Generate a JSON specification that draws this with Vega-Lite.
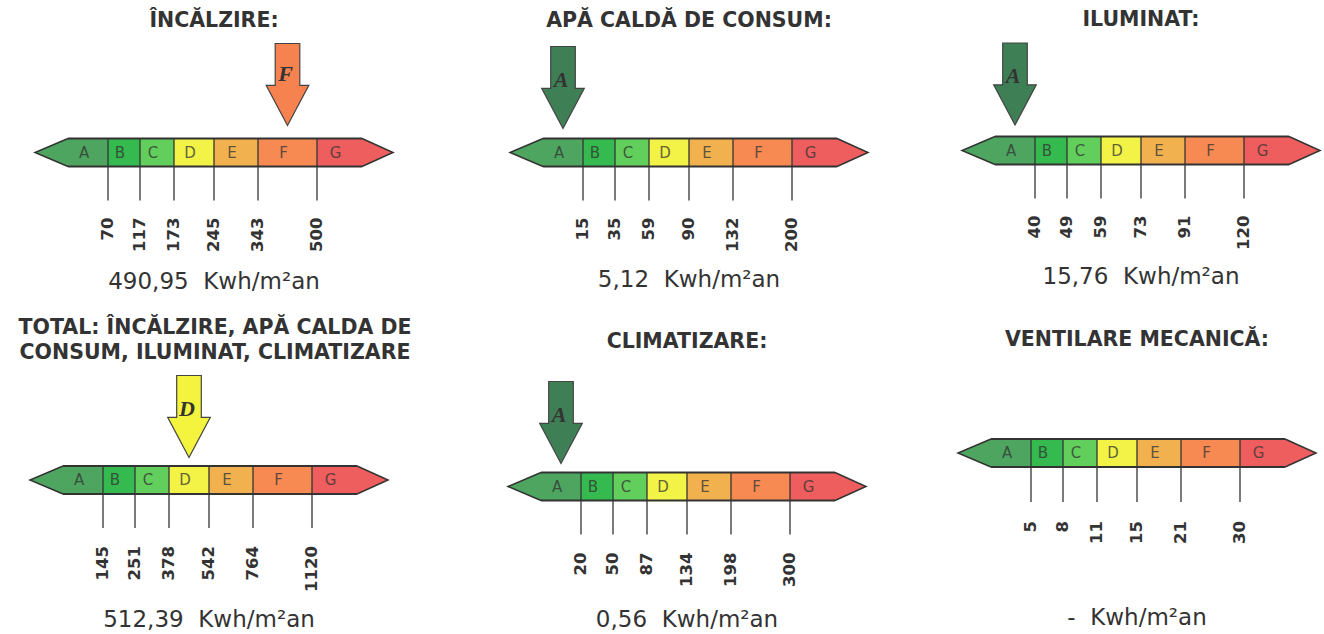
{
"$schema": "https://vega.github.io/schema/vega-lite/v6.json",
"padding": 0,
"background": "white",
"spacing": 0,
"config": {"view": {"stroke": null}, "axis": {"disable": true}, "legend": {"disable": true}},
"datasets": {
"grades": [
{"grade": "A", "lo": 33, "hi": 73, "mid": 53},
{"grade": "B", "lo": 73, "hi": 105, "mid": 89},
{"grade": "C", "lo": 105, "hi": 139, "mid": 122},
{"grade": "D", "lo": 139, "hi": 179, "mid": 159},
{"grade": "E", "lo": 179, "hi": 223, "mid": 201},
{"grade": "F", "lo": 223, "hi": 282, "mid": 252.5},
{"grade": "G", "lo": 282, "hi": 327, "mid": 304.5}
],
"limits": [
{"panel": "inc", "grade": "A", "limit": "70"}, {"panel": "inc", "grade": "B", "limit": "117"}, {"panel": "inc", "grade": "C", "limit": "173"}, {"panel": "inc", "grade": "D", "limit": "245"}, {"panel": "inc", "grade": "E", "limit": "343"}, {"panel": "inc", "grade": "F", "limit": "500"},
{"panel": "apa", "grade": "A", "limit": "15"}, {"panel": "apa", "grade": "B", "limit": "35"}, {"panel": "apa", "grade": "C", "limit": "59"}, {"panel": "apa", "grade": "D", "limit": "90"}, {"panel": "apa", "grade": "E", "limit": "132"}, {"panel": "apa", "grade": "F", "limit": "200"},
{"panel": "ilu", "grade": "A", "limit": "40"}, {"panel": "ilu", "grade": "B", "limit": "49"}, {"panel": "ilu", "grade": "C", "limit": "59"}, {"panel": "ilu", "grade": "D", "limit": "73"}, {"panel": "ilu", "grade": "E", "limit": "91"}, {"panel": "ilu", "grade": "F", "limit": "120"},
{"panel": "tot", "grade": "A", "limit": "145"}, {"panel": "tot", "grade": "B", "limit": "251"}, {"panel": "tot", "grade": "C", "limit": "378"}, {"panel": "tot", "grade": "D", "limit": "542"}, {"panel": "tot", "grade": "E", "limit": "764"}, {"panel": "tot", "grade": "F", "limit": "1120"},
{"panel": "cli", "grade": "A", "limit": "20"}, {"panel": "cli", "grade": "B", "limit": "50"}, {"panel": "cli", "grade": "C", "limit": "87"}, {"panel": "cli", "grade": "D", "limit": "134"}, {"panel": "cli", "grade": "E", "limit": "198"}, {"panel": "cli", "grade": "F", "limit": "300"},
{"panel": "ven", "grade": "A", "limit": "5"}, {"panel": "ven", "grade": "B", "limit": "8"}, {"panel": "ven", "grade": "C", "limit": "11"}, {"panel": "ven", "grade": "D", "limit": "15"}, {"panel": "ven", "grade": "E", "limit": "21"}, {"panel": "ven", "grade": "F", "limit": "30"}
],
"panels": [
{"panel": "inc", "title": ["ÎNCĂLZIRE:"], "value": "490,95\u00a0 Kwh/m²an", "grade": "F"},
{"panel": "apa", "title": ["APĂ CALDĂ DE CONSUM:"], "value": "5,12\u00a0 Kwh/m²an", "grade": "A"},
{"panel": "ilu", "title": ["ILUMINAT:"], "value": "15,76\u00a0 Kwh/m²an", "grade": "A"},
{"panel": "tot", "title": ["TOTAL: ÎNCĂLZIRE, APĂ CALDA DE", "CONSUM, ILUMINAT, CLIMATIZARE"], "value": "512,39\u00a0 Kwh/m²an", "grade": "D"},
{"panel": "cli", "title": ["CLIMATIZARE:"], "value": "0,56\u00a0 Kwh/m²an", "grade": "A"},
{"panel": "ven", "title": ["VENTILARE MECANICĂ:"], "value": "-\u00a0 Kwh/m²an", "grade": null}
]
},
"vconcat": [
{"hconcat": [
{"width": 470, "height": 305, "layer": [
{"data": {"name": "grades"}, "mark": {"type": "rect"}, "encoding": {"x": {"field": "lo", "type": "quantitative", "scale": {"domain": [-35, 435], "nice": false, "zero": false}}, "x2": {"field": "hi"}, "y": {"datum": 14, "type": "quantitative", "scale": {"domain": [-152.5, 152.5], "nice": false, "zero": false}}, "y2": {"datum": -14}, "color": {"field": "grade", "type": "nominal", "scale": {"domain": ["A","B","C","D","E","F","G"], "range": ["#4ea55f","#35ba4f","#62cf5c","#f3f247","#f2b14f","#f68a52","#ef5e5e"]}}}},
{"data": {"name": "grades"}, "transform": [{"filter": "datum.grade === 'A'"}], "mark": {"type": "point", "shape": "M1,-0.85L-1,0L1,0.85", "size": 1089, "filled": true, "opacity": 1, "stroke": "#333", "strokeWidth": 1.5}, "encoding": {"x": {"datum": 16.5}, "y": {"datum": 0}, "color": {"field": "grade", "type": "nominal"}}},
{"data": {"name": "grades"}, "transform": [{"filter": "datum.grade === 'G'"}], "mark": {"type": "point", "shape": "M-1,-0.9L1,0L-1,0.9", "size": 961, "filled": true, "opacity": 1, "stroke": "#333", "strokeWidth": 1.5}, "encoding": {"x": {"datum": 342.5}, "y": {"datum": 0}, "color": {"field": "grade", "type": "nominal"}}},
{"data": {"name": "grades"}, "transform": [{"filter": "datum.grade === 'A'"}], "mark": {"type": "rule", "stroke": "#333", "strokeWidth": 2}, "encoding": {"x": {"datum": 33}, "x2": {"datum": 327}, "y": {"datum": 14}}},
{"data": {"name": "grades"}, "transform": [{"filter": "datum.grade === 'A'"}], "mark": {"type": "rule", "stroke": "#333", "strokeWidth": 2}, "encoding": {"x": {"datum": 33}, "x2": {"datum": 327}, "y": {"datum": -14}}},
{"data": {"name": "limits"}, "transform": [{"filter": "datum.panel === 'inc'"}, {"lookup": "grade", "from": {"data": {"name": "grades"}, "key": "grade", "fields": ["hi"]}}], "mark": {"type": "rule", "stroke": "#333", "strokeWidth": 1.3}, "encoding": {"x": {"field": "hi", "type": "quantitative"}, "y": {"datum": 14}, "y2": {"datum": -48}}},
{"data": {"name": "grades"}, "mark": {"type": "text", "dx": -4, "fontSize": 15, "font": "DejaVu Sans", "color": "#333", "opacity": 0.75}, "encoding": {"x": {"field": "mid", "type": "quantitative"}, "y": {"datum": 0}, "text": {"field": "grade"}}},
{"data": {"name": "limits"}, "transform": [{"filter": "datum.panel === 'inc'"}, {"lookup": "grade", "from": {"data": {"name": "grades"}, "key": "grade", "fields": ["hi"]}}], "mark": {"type": "text", "angle": 270, "align": "right", "baseline": "middle", "font": "DejaVu Sans", "fontWeight": "bold", "fontSize": 16.5, "color": "#333"}, "encoding": {"x": {"field": "hi", "type": "quantitative"}, "y": {"datum": -65}, "text": {"field": "limit"}}},
{"data": {"name": "panels"}, "transform": [{"filter": "datum.panel === 'inc'"}, {"lookup": "grade", "from": {"data": {"name": "grades"}, "key": "grade", "fields": ["mid"]}}], "mark": {"type": "point", "shape": "M-0.3,-1L0.3,-1L0.3,0.02L0.52,0.02L0,1L-0.52,0.02L-0.3,0.02Z", "size": 6724, "filled": true, "opacity": 1, "stroke": "#444", "strokeWidth": 1.2}, "encoding": {"x": {"field": "mid", "type": "quantitative"}, "y": {"datum": 68}, "fill": {"field": "grade", "type": "nominal", "scale": {"domain": ["A","B","C","D","E","F","G"], "range": ["#3f7f55","#35ba4f","#62cf5c","#f4f43e","#f2b14f","#f6824f","#ef5e5e"]}}}},
{"data": {"name": "panels"}, "transform": [{"filter": "datum.panel === 'inc'"}, {"lookup": "grade", "from": {"data": {"name": "grades"}, "key": "grade", "fields": ["mid"]}}], "mark": {"type": "text", "font": "Liberation Serif", "fontStyle": "italic", "fontWeight": "bold", "fontSize": 22, "color": "#333", "dx": -2}, "encoding": {"x": {"field": "mid", "type": "quantitative"}, "y": {"datum": 79}, "text": {"field": "grade"}}},
{"data": {"name": "panels"}, "transform": [{"filter": "datum.panel === 'inc'"}], "mark": {"type": "text", "font": "DejaVu Sans", "fontWeight": "bold", "fontSize": 20.5, "color": "#333", "lineHeight": 25, "baseline": "middle"}, "encoding": {"x": {"datum": 179}, "y": {"datum": 131.5}, "text": {"field": "title"}}},
{"data": {"name": "panels"}, "transform": [{"filter": "datum.panel === 'inc'"}], "mark": {"type": "text", "font": "DejaVu Sans", "fontSize": 23, "color": "#333", "baseline": "middle"}, "encoding": {"x": {"datum": 179}, "y": {"datum": -129.5}, "text": {"field": "value"}}}
]},
{"width": 450, "height": 305, "layer": [
{"data": {"name": "grades"}, "mark": {"type": "rect"}, "encoding": {"x": {"field": "lo", "type": "quantitative", "scale": {"domain": [-40, 410], "nice": false, "zero": false}}, "x2": {"field": "hi"}, "y": {"datum": 14, "type": "quantitative", "scale": {"domain": [-152.5, 152.5], "nice": false, "zero": false}}, "y2": {"datum": -14}, "color": {"field": "grade", "type": "nominal", "scale": {"domain": ["A","B","C","D","E","F","G"], "range": ["#4ea55f","#35ba4f","#62cf5c","#f3f247","#f2b14f","#f68a52","#ef5e5e"]}}}},
{"data": {"name": "grades"}, "transform": [{"filter": "datum.grade === 'A'"}], "mark": {"type": "point", "shape": "M1,-0.85L-1,0L1,0.85", "size": 1089, "filled": true, "opacity": 1, "stroke": "#333", "strokeWidth": 1.5}, "encoding": {"x": {"datum": 16.5}, "y": {"datum": 0}, "color": {"field": "grade", "type": "nominal"}}},
{"data": {"name": "grades"}, "transform": [{"filter": "datum.grade === 'G'"}], "mark": {"type": "point", "shape": "M-1,-0.9L1,0L-1,0.9", "size": 961, "filled": true, "opacity": 1, "stroke": "#333", "strokeWidth": 1.5}, "encoding": {"x": {"datum": 342.5}, "y": {"datum": 0}, "color": {"field": "grade", "type": "nominal"}}},
{"data": {"name": "grades"}, "transform": [{"filter": "datum.grade === 'A'"}], "mark": {"type": "rule", "stroke": "#333", "strokeWidth": 2}, "encoding": {"x": {"datum": 33}, "x2": {"datum": 327}, "y": {"datum": 14}}},
{"data": {"name": "grades"}, "transform": [{"filter": "datum.grade === 'A'"}], "mark": {"type": "rule", "stroke": "#333", "strokeWidth": 2}, "encoding": {"x": {"datum": 33}, "x2": {"datum": 327}, "y": {"datum": -14}}},
{"data": {"name": "limits"}, "transform": [{"filter": "datum.panel === 'apa'"}, {"lookup": "grade", "from": {"data": {"name": "grades"}, "key": "grade", "fields": ["hi"]}}], "mark": {"type": "rule", "stroke": "#333", "strokeWidth": 1.3}, "encoding": {"x": {"field": "hi", "type": "quantitative"}, "y": {"datum": 14}, "y2": {"datum": -48}}},
{"data": {"name": "grades"}, "mark": {"type": "text", "dx": -4, "fontSize": 15, "font": "DejaVu Sans", "color": "#333", "opacity": 0.75}, "encoding": {"x": {"field": "mid", "type": "quantitative"}, "y": {"datum": 0}, "text": {"field": "grade"}}},
{"data": {"name": "limits"}, "transform": [{"filter": "datum.panel === 'apa'"}, {"lookup": "grade", "from": {"data": {"name": "grades"}, "key": "grade", "fields": ["hi"]}}], "mark": {"type": "text", "angle": 270, "align": "right", "baseline": "middle", "font": "DejaVu Sans", "fontWeight": "bold", "fontSize": 16.5, "color": "#333"}, "encoding": {"x": {"field": "hi", "type": "quantitative"}, "y": {"datum": -65}, "text": {"field": "limit"}}},
{"data": {"name": "panels"}, "transform": [{"filter": "datum.panel === 'apa'"}, {"lookup": "grade", "from": {"data": {"name": "grades"}, "key": "grade", "fields": ["mid"]}}], "mark": {"type": "point", "shape": "M-0.3,-1L0.3,-1L0.3,0.02L0.52,0.02L0,1L-0.52,0.02L-0.3,0.02Z", "size": 6724, "filled": true, "opacity": 1, "stroke": "#444", "strokeWidth": 1.2}, "encoding": {"x": {"field": "mid", "type": "quantitative"}, "y": {"datum": 65}, "fill": {"field": "grade", "type": "nominal", "scale": {"domain": ["A","B","C","D","E","F","G"], "range": ["#3f7f55","#35ba4f","#62cf5c","#f4f43e","#f2b14f","#f6824f","#ef5e5e"]}}}},
{"data": {"name": "panels"}, "transform": [{"filter": "datum.panel === 'apa'"}, {"lookup": "grade", "from": {"data": {"name": "grades"}, "key": "grade", "fields": ["mid"]}}], "mark": {"type": "text", "font": "Liberation Serif", "fontStyle": "italic", "fontWeight": "bold", "fontSize": 22, "color": "#333", "dx": -2}, "encoding": {"x": {"field": "mid", "type": "quantitative"}, "y": {"datum": 73}, "text": {"field": "grade"}}},
{"data": {"name": "panels"}, "transform": [{"filter": "datum.panel === 'apa'"}], "mark": {"type": "text", "font": "DejaVu Sans", "fontWeight": "bold", "fontSize": 20.5, "color": "#333", "lineHeight": 25, "baseline": "middle"}, "encoding": {"x": {"datum": 179}, "y": {"datum": 131.5}, "text": {"field": "title"}}},
{"data": {"name": "panels"}, "transform": [{"filter": "datum.panel === 'apa'"}], "mark": {"type": "text", "font": "DejaVu Sans", "fontSize": 23, "color": "#333", "baseline": "middle"}, "encoding": {"x": {"datum": 179}, "y": {"datum": -127.5}, "text": {"field": "value"}}}
]},
{"width": 404, "height": 305, "layer": [
{"data": {"name": "grades"}, "mark": {"type": "rect"}, "encoding": {"x": {"field": "lo", "type": "quantitative", "scale": {"domain": [-42, 362], "nice": false, "zero": false}}, "x2": {"field": "hi"}, "y": {"datum": 14, "type": "quantitative", "scale": {"domain": [-154.5, 150.5], "nice": false, "zero": false}}, "y2": {"datum": -14}, "color": {"field": "grade", "type": "nominal", "scale": {"domain": ["A","B","C","D","E","F","G"], "range": ["#4ea55f","#35ba4f","#62cf5c","#f3f247","#f2b14f","#f68a52","#ef5e5e"]}}}},
{"data": {"name": "grades"}, "transform": [{"filter": "datum.grade === 'A'"}], "mark": {"type": "point", "shape": "M1,-0.85L-1,0L1,0.85", "size": 1089, "filled": true, "opacity": 1, "stroke": "#333", "strokeWidth": 1.5}, "encoding": {"x": {"datum": 16.5}, "y": {"datum": 0}, "color": {"field": "grade", "type": "nominal"}}},
{"data": {"name": "grades"}, "transform": [{"filter": "datum.grade === 'G'"}], "mark": {"type": "point", "shape": "M-1,-0.9L1,0L-1,0.9", "size": 961, "filled": true, "opacity": 1, "stroke": "#333", "strokeWidth": 1.5}, "encoding": {"x": {"datum": 342.5}, "y": {"datum": 0}, "color": {"field": "grade", "type": "nominal"}}},
{"data": {"name": "grades"}, "transform": [{"filter": "datum.grade === 'A'"}], "mark": {"type": "rule", "stroke": "#333", "strokeWidth": 2}, "encoding": {"x": {"datum": 33}, "x2": {"datum": 327}, "y": {"datum": 14}}},
{"data": {"name": "grades"}, "transform": [{"filter": "datum.grade === 'A'"}], "mark": {"type": "rule", "stroke": "#333", "strokeWidth": 2}, "encoding": {"x": {"datum": 33}, "x2": {"datum": 327}, "y": {"datum": -14}}},
{"data": {"name": "limits"}, "transform": [{"filter": "datum.panel === 'ilu'"}, {"lookup": "grade", "from": {"data": {"name": "grades"}, "key": "grade", "fields": ["hi"]}}], "mark": {"type": "rule", "stroke": "#333", "strokeWidth": 1.3}, "encoding": {"x": {"field": "hi", "type": "quantitative"}, "y": {"datum": 14}, "y2": {"datum": -48}}},
{"data": {"name": "grades"}, "mark": {"type": "text", "dx": -4, "fontSize": 15, "font": "DejaVu Sans", "color": "#333", "opacity": 0.75}, "encoding": {"x": {"field": "mid", "type": "quantitative"}, "y": {"datum": 0}, "text": {"field": "grade"}}},
{"data": {"name": "limits"}, "transform": [{"filter": "datum.panel === 'ilu'"}, {"lookup": "grade", "from": {"data": {"name": "grades"}, "key": "grade", "fields": ["hi"]}}], "mark": {"type": "text", "angle": 270, "align": "right", "baseline": "middle", "font": "DejaVu Sans", "fontWeight": "bold", "fontSize": 16.5, "color": "#333"}, "encoding": {"x": {"field": "hi", "type": "quantitative"}, "y": {"datum": -65}, "text": {"field": "limit"}}},
{"data": {"name": "panels"}, "transform": [{"filter": "datum.panel === 'ilu'"}, {"lookup": "grade", "from": {"data": {"name": "grades"}, "key": "grade", "fields": ["mid"]}}], "mark": {"type": "point", "shape": "M-0.3,-1L0.3,-1L0.3,0.02L0.52,0.02L0,1L-0.52,0.02L-0.3,0.02Z", "size": 6724, "filled": true, "opacity": 1, "stroke": "#444", "strokeWidth": 1.2}, "encoding": {"x": {"field": "mid", "type": "quantitative"}, "y": {"datum": 66.5}, "fill": {"field": "grade", "type": "nominal", "scale": {"domain": ["A","B","C","D","E","F","G"], "range": ["#3f7f55","#35ba4f","#62cf5c","#f4f43e","#f2b14f","#f6824f","#ef5e5e"]}}}},
{"data": {"name": "panels"}, "transform": [{"filter": "datum.panel === 'ilu'"}, {"lookup": "grade", "from": {"data": {"name": "grades"}, "key": "grade", "fields": ["mid"]}}], "mark": {"type": "text", "font": "Liberation Serif", "fontStyle": "italic", "fontWeight": "bold", "fontSize": 22, "color": "#333", "dx": -2}, "encoding": {"x": {"field": "mid", "type": "quantitative"}, "y": {"datum": 75}, "text": {"field": "grade"}}},
{"data": {"name": "panels"}, "transform": [{"filter": "datum.panel === 'ilu'"}], "mark": {"type": "text", "font": "DejaVu Sans", "fontWeight": "bold", "fontSize": 20.5, "color": "#333", "lineHeight": 25, "baseline": "middle"}, "encoding": {"x": {"datum": 179}, "y": {"datum": 131}, "text": {"field": "title"}}},
{"data": {"name": "panels"}, "transform": [{"filter": "datum.panel === 'ilu'"}], "mark": {"type": "text", "font": "DejaVu Sans", "fontSize": 23, "color": "#333", "baseline": "middle"}, "encoding": {"x": {"datum": 179}, "y": {"datum": -126.5}, "text": {"field": "value"}}}
]}
], "spacing": 0, "bounds": "flush"},
{"hconcat": [
{"width": 465, "height": 329, "layer": [
{"data": {"name": "grades"}, "mark": {"type": "rect"}, "encoding": {"x": {"field": "lo", "type": "quantitative", "scale": {"domain": [-30, 435], "nice": false, "zero": false}}, "x2": {"field": "hi"}, "y": {"datum": 14, "type": "quantitative", "scale": {"domain": [-154, 175], "nice": false, "zero": false}}, "y2": {"datum": -14}, "color": {"field": "grade", "type": "nominal", "scale": {"domain": ["A","B","C","D","E","F","G"], "range": ["#4ea55f","#35ba4f","#62cf5c","#f3f247","#f2b14f","#f68a52","#ef5e5e"]}}}},
{"data": {"name": "grades"}, "transform": [{"filter": "datum.grade === 'A'"}], "mark": {"type": "point", "shape": "M1,-0.85L-1,0L1,0.85", "size": 1089, "filled": true, "opacity": 1, "stroke": "#333", "strokeWidth": 1.5}, "encoding": {"x": {"datum": 16.5}, "y": {"datum": 0}, "color": {"field": "grade", "type": "nominal"}}},
{"data": {"name": "grades"}, "transform": [{"filter": "datum.grade === 'G'"}], "mark": {"type": "point", "shape": "M-1,-0.9L1,0L-1,0.9", "size": 961, "filled": true, "opacity": 1, "stroke": "#333", "strokeWidth": 1.5}, "encoding": {"x": {"datum": 342.5}, "y": {"datum": 0}, "color": {"field": "grade", "type": "nominal"}}},
{"data": {"name": "grades"}, "transform": [{"filter": "datum.grade === 'A'"}], "mark": {"type": "rule", "stroke": "#333", "strokeWidth": 2}, "encoding": {"x": {"datum": 33}, "x2": {"datum": 327}, "y": {"datum": 14}}},
{"data": {"name": "grades"}, "transform": [{"filter": "datum.grade === 'A'"}], "mark": {"type": "rule", "stroke": "#333", "strokeWidth": 2}, "encoding": {"x": {"datum": 33}, "x2": {"datum": 327}, "y": {"datum": -14}}},
{"data": {"name": "limits"}, "transform": [{"filter": "datum.panel === 'tot'"}, {"lookup": "grade", "from": {"data": {"name": "grades"}, "key": "grade", "fields": ["hi"]}}], "mark": {"type": "rule", "stroke": "#333", "strokeWidth": 1.3}, "encoding": {"x": {"field": "hi", "type": "quantitative"}, "y": {"datum": 14}, "y2": {"datum": -48}}},
{"data": {"name": "grades"}, "mark": {"type": "text", "dx": -4, "fontSize": 15, "font": "DejaVu Sans", "color": "#333", "opacity": 0.75}, "encoding": {"x": {"field": "mid", "type": "quantitative"}, "y": {"datum": 0}, "text": {"field": "grade"}}},
{"data": {"name": "limits"}, "transform": [{"filter": "datum.panel === 'tot'"}, {"lookup": "grade", "from": {"data": {"name": "grades"}, "key": "grade", "fields": ["hi"]}}], "mark": {"type": "text", "angle": 270, "align": "right", "baseline": "middle", "font": "DejaVu Sans", "fontWeight": "bold", "fontSize": 16.5, "color": "#333"}, "encoding": {"x": {"field": "hi", "type": "quantitative"}, "y": {"datum": -66}, "text": {"field": "limit"}}},
{"data": {"name": "panels"}, "transform": [{"filter": "datum.panel === 'tot'"}, {"lookup": "grade", "from": {"data": {"name": "grades"}, "key": "grade", "fields": ["mid"]}}], "mark": {"type": "point", "shape": "M-0.3,-1L0.3,-1L0.3,0.02L0.52,0.02L0,1L-0.52,0.02L-0.3,0.02Z", "size": 6724, "filled": true, "opacity": 1, "stroke": "#444", "strokeWidth": 1.2}, "encoding": {"x": {"field": "mid", "type": "quantitative"}, "y": {"datum": 63.5}, "fill": {"field": "grade", "type": "nominal", "scale": {"domain": ["A","B","C","D","E","F","G"], "range": ["#3f7f55","#35ba4f","#62cf5c","#f4f43e","#f2b14f","#f6824f","#ef5e5e"]}}}},
{"data": {"name": "panels"}, "transform": [{"filter": "datum.panel === 'tot'"}, {"lookup": "grade", "from": {"data": {"name": "grades"}, "key": "grade", "fields": ["mid"]}}], "mark": {"type": "text", "font": "Liberation Serif", "fontStyle": "italic", "fontWeight": "bold", "fontSize": 22, "color": "#333", "dx": -2}, "encoding": {"x": {"field": "mid", "type": "quantitative"}, "y": {"datum": 71}, "text": {"field": "grade"}}},
{"data": {"name": "panels"}, "transform": [{"filter": "datum.panel === 'tot'"}], "mark": {"type": "text", "font": "DejaVu Sans", "fontWeight": "bold", "fontSize": 20.5, "color": "#333", "lineHeight": 25, "baseline": "middle"}, "encoding": {"x": {"datum": 185}, "y": {"datum": 152}, "text": {"field": "title"}}},
{"data": {"name": "panels"}, "transform": [{"filter": "datum.panel === 'tot'"}], "mark": {"type": "text", "font": "DejaVu Sans", "fontSize": 23, "color": "#333", "baseline": "middle"}, "encoding": {"x": {"datum": 179}, "y": {"datum": -140}, "text": {"field": "value"}}}
]},
{"width": 450, "height": 329, "layer": [
{"data": {"name": "grades"}, "mark": {"type": "rect"}, "encoding": {"x": {"field": "lo", "type": "quantitative", "scale": {"domain": [-43, 407], "nice": false, "zero": false}}, "x2": {"field": "hi"}, "y": {"datum": 14, "type": "quantitative", "scale": {"domain": [-147.5, 181.5], "nice": false, "zero": false}}, "y2": {"datum": -14}, "color": {"field": "grade", "type": "nominal", "scale": {"domain": ["A","B","C","D","E","F","G"], "range": ["#4ea55f","#35ba4f","#62cf5c","#f3f247","#f2b14f","#f68a52","#ef5e5e"]}}}},
{"data": {"name": "grades"}, "transform": [{"filter": "datum.grade === 'A'"}], "mark": {"type": "point", "shape": "M1,-0.85L-1,0L1,0.85", "size": 1089, "filled": true, "opacity": 1, "stroke": "#333", "strokeWidth": 1.5}, "encoding": {"x": {"datum": 16.5}, "y": {"datum": 0}, "color": {"field": "grade", "type": "nominal"}}},
{"data": {"name": "grades"}, "transform": [{"filter": "datum.grade === 'G'"}], "mark": {"type": "point", "shape": "M-1,-0.9L1,0L-1,0.9", "size": 961, "filled": true, "opacity": 1, "stroke": "#333", "strokeWidth": 1.5}, "encoding": {"x": {"datum": 342.5}, "y": {"datum": 0}, "color": {"field": "grade", "type": "nominal"}}},
{"data": {"name": "grades"}, "transform": [{"filter": "datum.grade === 'A'"}], "mark": {"type": "rule", "stroke": "#333", "strokeWidth": 2}, "encoding": {"x": {"datum": 33}, "x2": {"datum": 327}, "y": {"datum": 14}}},
{"data": {"name": "grades"}, "transform": [{"filter": "datum.grade === 'A'"}], "mark": {"type": "rule", "stroke": "#333", "strokeWidth": 2}, "encoding": {"x": {"datum": 33}, "x2": {"datum": 327}, "y": {"datum": -14}}},
{"data": {"name": "limits"}, "transform": [{"filter": "datum.panel === 'cli'"}, {"lookup": "grade", "from": {"data": {"name": "grades"}, "key": "grade", "fields": ["hi"]}}], "mark": {"type": "rule", "stroke": "#333", "strokeWidth": 1.3}, "encoding": {"x": {"field": "hi", "type": "quantitative"}, "y": {"datum": 14}, "y2": {"datum": -48}}},
{"data": {"name": "grades"}, "mark": {"type": "text", "dx": -4, "fontSize": 15, "font": "DejaVu Sans", "color": "#333", "opacity": 0.75}, "encoding": {"x": {"field": "mid", "type": "quantitative"}, "y": {"datum": 0}, "text": {"field": "grade"}}},
{"data": {"name": "limits"}, "transform": [{"filter": "datum.panel === 'cli'"}, {"lookup": "grade", "from": {"data": {"name": "grades"}, "key": "grade", "fields": ["hi"]}}], "mark": {"type": "text", "angle": 270, "align": "right", "baseline": "middle", "font": "DejaVu Sans", "fontWeight": "bold", "fontSize": 16.5, "color": "#333"}, "encoding": {"x": {"field": "hi", "type": "quantitative"}, "y": {"datum": -66}, "text": {"field": "limit"}}},
{"data": {"name": "panels"}, "transform": [{"filter": "datum.panel === 'cli'"}, {"lookup": "grade", "from": {"data": {"name": "grades"}, "key": "grade", "fields": ["mid"]}}], "mark": {"type": "point", "shape": "M-0.3,-1L0.3,-1L0.3,0.02L0.52,0.02L0,1L-0.52,0.02L-0.3,0.02Z", "size": 6724, "filled": true, "opacity": 1, "stroke": "#444", "strokeWidth": 1.2}, "encoding": {"x": {"field": "mid", "type": "quantitative"}, "y": {"datum": 64}, "fill": {"field": "grade", "type": "nominal", "scale": {"domain": ["A","B","C","D","E","F","G"], "range": ["#3f7f55","#35ba4f","#62cf5c","#f4f43e","#f2b14f","#f6824f","#ef5e5e"]}}}},
{"data": {"name": "panels"}, "transform": [{"filter": "datum.panel === 'cli'"}, {"lookup": "grade", "from": {"data": {"name": "grades"}, "key": "grade", "fields": ["mid"]}}], "mark": {"type": "text", "font": "Liberation Serif", "fontStyle": "italic", "fontWeight": "bold", "fontSize": 22, "color": "#333", "dx": -2}, "encoding": {"x": {"field": "mid", "type": "quantitative"}, "y": {"datum": 72}, "text": {"field": "grade"}}},
{"data": {"name": "panels"}, "transform": [{"filter": "datum.panel === 'cli'"}], "mark": {"type": "text", "font": "DejaVu Sans", "fontWeight": "bold", "fontSize": 20.5, "color": "#333", "lineHeight": 25, "baseline": "middle"}, "encoding": {"x": {"datum": 179}, "y": {"datum": 144.5}, "text": {"field": "title"}}},
{"data": {"name": "panels"}, "transform": [{"filter": "datum.panel === 'cli'"}], "mark": {"type": "text", "font": "DejaVu Sans", "fontSize": 23, "color": "#333", "baseline": "middle"}, "encoding": {"x": {"datum": 179}, "y": {"datum": -133.5}, "text": {"field": "value"}}}
]},
{"width": 409, "height": 329, "layer": [
{"data": {"name": "grades"}, "mark": {"type": "rect"}, "encoding": {"x": {"field": "lo", "type": "quantitative", "scale": {"domain": [-43, 366], "nice": false, "zero": false}}, "x2": {"field": "hi"}, "y": {"datum": 14, "type": "quantitative", "scale": {"domain": [-181, 148], "nice": false, "zero": false}}, "y2": {"datum": -14}, "color": {"field": "grade", "type": "nominal", "scale": {"domain": ["A","B","C","D","E","F","G"], "range": ["#4ea55f","#35ba4f","#62cf5c","#f3f247","#f2b14f","#f68a52","#ef5e5e"]}}}},
{"data": {"name": "grades"}, "transform": [{"filter": "datum.grade === 'A'"}], "mark": {"type": "point", "shape": "M1,-0.85L-1,0L1,0.85", "size": 1089, "filled": true, "opacity": 1, "stroke": "#333", "strokeWidth": 1.5}, "encoding": {"x": {"datum": 16.5}, "y": {"datum": 0}, "color": {"field": "grade", "type": "nominal"}}},
{"data": {"name": "grades"}, "transform": [{"filter": "datum.grade === 'G'"}], "mark": {"type": "point", "shape": "M-1,-0.9L1,0L-1,0.9", "size": 961, "filled": true, "opacity": 1, "stroke": "#333", "strokeWidth": 1.5}, "encoding": {"x": {"datum": 342.5}, "y": {"datum": 0}, "color": {"field": "grade", "type": "nominal"}}},
{"data": {"name": "grades"}, "transform": [{"filter": "datum.grade === 'A'"}], "mark": {"type": "rule", "stroke": "#333", "strokeWidth": 2}, "encoding": {"x": {"datum": 33}, "x2": {"datum": 327}, "y": {"datum": 14}}},
{"data": {"name": "grades"}, "transform": [{"filter": "datum.grade === 'A'"}], "mark": {"type": "rule", "stroke": "#333", "strokeWidth": 2}, "encoding": {"x": {"datum": 33}, "x2": {"datum": 327}, "y": {"datum": -14}}},
{"data": {"name": "limits"}, "transform": [{"filter": "datum.panel === 'ven'"}, {"lookup": "grade", "from": {"data": {"name": "grades"}, "key": "grade", "fields": ["hi"]}}], "mark": {"type": "rule", "stroke": "#333", "strokeWidth": 1.3}, "encoding": {"x": {"field": "hi", "type": "quantitative"}, "y": {"datum": 14}, "y2": {"datum": -49}}},
{"data": {"name": "grades"}, "mark": {"type": "text", "dx": -4, "fontSize": 15, "font": "DejaVu Sans", "color": "#333", "opacity": 0.75}, "encoding": {"x": {"field": "mid", "type": "quantitative"}, "y": {"datum": 0}, "text": {"field": "grade"}}},
{"data": {"name": "limits"}, "transform": [{"filter": "datum.panel === 'ven'"}, {"lookup": "grade", "from": {"data": {"name": "grades"}, "key": "grade", "fields": ["hi"]}}], "mark": {"type": "text", "angle": 270, "align": "right", "baseline": "middle", "font": "DejaVu Sans", "fontWeight": "bold", "fontSize": 16.5, "color": "#333"}, "encoding": {"x": {"field": "hi", "type": "quantitative"}, "y": {"datum": -68}, "text": {"field": "limit"}}},
{"data": {"name": "panels"}, "transform": [{"filter": "datum.panel === 'ven'"}], "mark": {"type": "text", "font": "DejaVu Sans", "fontWeight": "bold", "fontSize": 20.5, "color": "#333", "lineHeight": 25, "baseline": "middle"}, "encoding": {"x": {"datum": 179}, "y": {"datum": 113}, "text": {"field": "title"}}},
{"data": {"name": "panels"}, "transform": [{"filter": "datum.panel === 'ven'"}], "mark": {"type": "text", "font": "DejaVu Sans", "fontSize": 23, "color": "#333", "baseline": "middle"}, "encoding": {"x": {"datum": 179}, "y": {"datum": -165}, "text": {"field": "value"}}}
]}
], "spacing": 0, "bounds": "flush"}
]
}
